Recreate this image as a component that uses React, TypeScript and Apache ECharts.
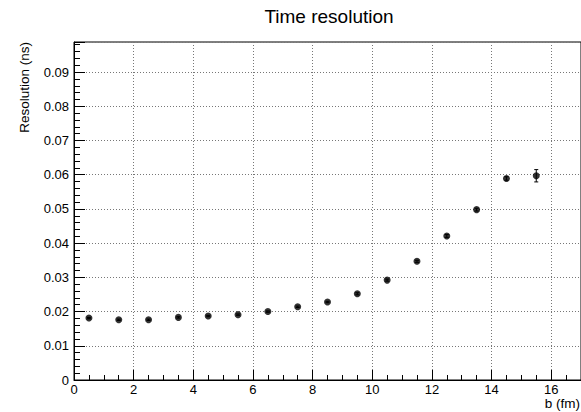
import React, { useEffect, useRef } from "react";
import * as echarts from "echarts";

const bValues = [0.5, 1.5, 2.5, 3.5, 4.5, 5.5, 6.5, 7.5, 8.5, 9.5, 10.5, 11.5, 12.5, 13.5, 14.5, 15.5];
const resolution = [0.0181, 0.0176, 0.0176, 0.0183, 0.0187, 0.0191, 0.02, 0.0214, 0.0228, 0.0252, 0.0292, 0.0347, 0.0421, 0.0498, 0.0589, 0.0597];
const resolutionErr = [0.0002, 0.0002, 0.0002, 0.0002, 0.0002, 0.0002, 0.0002, 0.0002, 0.0002, 0.0003, 0.0003, 0.0003, 0.0004, 0.0004, 0.0005, 0.0018];

const FONT = "'Liberation Sans', Arial, Helvetica, sans-serif";

export default function App() {
  const ref = useRef<HTMLDivElement>(null);
  useEffect(() => {
    if (!ref.current) return;
    const chart = echarts.init(ref.current, undefined, { renderer: "svg" });
    const points = bValues.map((b, i) => [b, resolution[i]]);
    const errData = bValues.map((b, i) => [b, resolution[i], resolutionErr[i]]);
    chart.setOption({
      animation: false,
      backgroundColor: "#fff",
      textStyle: { fontFamily: FONT },
      grid: {
        left: 74,
        right: -1,
        top: 42,
        bottom: 32,
        show: true,
        borderColor: "#000",
        borderWidth: 1,
        backgroundColor: "transparent",
      },
      graphic: [
        {
          type: "text",
          x: 329,
          y: 16,
          style: {
            text: "Time resolution",
            font: `19px ${FONT}`,
            fill: "#000",
            textAlign: "center",
            textVerticalAlign: "middle",
          },
        },
        {
          type: "text",
          x: 24,
          y: 42,
          rotation: Math.PI / 2,
          style: {
            text: "Resolution (ns)",
            font: `13.5px ${FONT}`,
            fill: "#000",
            textAlign: "right",
            textVerticalAlign: "middle",
          },
        },
        {
          type: "text",
          x: 580,
          y: 403,
          style: {
            text: "b (fm)",
            font: `13.5px ${FONT}`,
            fill: "#000",
            textAlign: "right",
            textVerticalAlign: "middle",
          },
        },
      ],
      xAxis: {
        type: "value",
        min: 0,
        max: 17,
        interval: 2,
        axisLine: { show: true, lineStyle: { color: "#000", width: 1 } },
        axisTick: { show: true, inside: true, length: 10, lineStyle: { color: "#000" } },
        minorTick: { show: true, splitNumber: 4, length: 5, lineStyle: { color: "#000" } },
        axisLabel: { color: "#000", fontSize: 13, margin: 3, showMaxLabel: false, fontFamily: FONT },
        splitLine: { show: true, lineStyle: { color: "#777", type: [1, 2], width: 1 } },
      },
      yAxis: {
        type: "value",
        min: 0,
        max: 0.0988,
        interval: 0.01,
        axisLine: { show: true, lineStyle: { color: "#000", width: 1 } },
        axisTick: { show: true, inside: true, length: 11, lineStyle: { color: "#000" } },
        minorTick: { show: true, splitNumber: 5, length: 6, lineStyle: { color: "#000" } },
        axisLabel: { color: "#000", fontSize: 13, margin: 5, showMaxLabel: false, fontFamily: FONT },
        splitLine: { show: true, lineStyle: { color: "#777", type: [1, 2], width: 1 } },
      },
      series: [
        {
          type: "custom",
          data: errData,
          z: 3,
          renderItem: (params: any, api: any) => {
            const x = api.value(0);
            const y = api.value(1);
            const e = api.value(2);
            const lo = api.coord([x, y - e]);
            const hi = api.coord([x, y + e]);
            const cap = 2;
            const style = { stroke: "#000", lineWidth: 1 };
            return {
              type: "group",
              children: [
                { type: "line", shape: { x1: lo[0], y1: lo[1], x2: hi[0], y2: hi[1] }, style },
                { type: "line", shape: { x1: lo[0] - cap, y1: lo[1], x2: lo[0] + cap, y2: lo[1] }, style },
                { type: "line", shape: { x1: hi[0] - cap, y1: hi[1], x2: hi[0] + cap, y2: hi[1] }, style },
              ],
            };
          },
        },
        {
          type: "scatter",
          data: points,
          symbol: "circle",
          symbolSize: 7,
          z: 4,
          itemStyle: { color: "#000" },
        },
      ],
    });
    return () => chart.dispose();
  }, []);
  return <div ref={ref} style={{ width: 581, height: 412, position: "absolute", left: 0, top: 0 }} />;
}
